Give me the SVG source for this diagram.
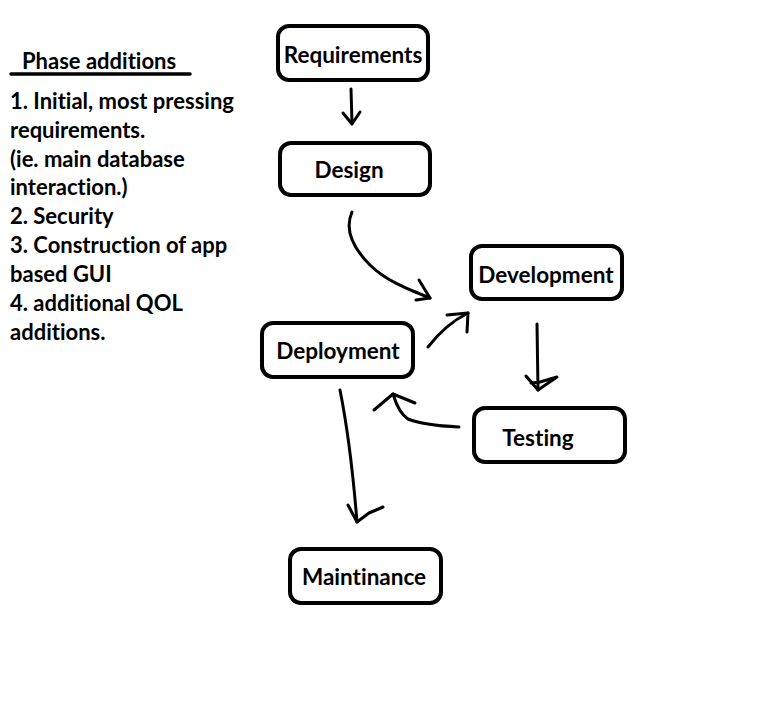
<svg xmlns="http://www.w3.org/2000/svg" width="777" height="716" viewBox="0 0 777 716">
<style>
.box{fill:#fff;stroke:#000;stroke-width:4}
.lbl{font-family:Lato,"Liberation Sans",sans-serif;font-weight:bold;font-size:22.5px;fill:#000;text-anchor:middle;font-variant-ligatures:none}
.note{font-family:Lato,"Liberation Sans",sans-serif;font-weight:bold;font-size:22px;fill:#000;font-variant-ligatures:none}
.c{fill:none;stroke:#000;stroke-width:3;stroke-linecap:round;stroke-linejoin:round}
</style>
<rect width="777" height="716" fill="#fff"/>
<g id="notes">
<text class="note" x="22" y="69">Phase additions</text>
<line x1="11" y1="74" x2="190" y2="74" stroke="#000" stroke-width="3.5" stroke-linecap="round"/>
<text class="note" x="10" y="109">1. Initial, most pressing</text>
<text class="note" x="10" y="138">requirements.</text>
<text class="note" x="10" y="167">(ie. main database</text>
<text class="note" x="10" y="195">interaction.)</text>
<text class="note" x="10" y="224">2. Security</text>
<text class="note" x="10" y="253">3. Construction of app</text>
<text class="note" x="10" y="282">based GUI</text>
<text class="note" x="10" y="311">4. additional QOL</text>
<text class="note" x="10" y="340">additions.</text>
</g>
<g id="requirements"><rect class="box" x="278" y="26" width="150" height="54" rx="11"/><text class="lbl" x="353" y="63">Requirements</text></g>
<g id="design"><rect class="box" x="280" y="143" width="150" height="52" rx="11"/><text class="lbl" x="349" y="178">Design</text></g>
<g id="development"><rect class="box" x="471" y="246" width="151" height="53" rx="11"/><text class="lbl" x="546" y="283">Development</text></g>
<g id="deployment"><rect class="box" x="262" y="323" width="151" height="54" rx="11"/><text class="lbl" x="338" y="359">Deployment</text></g>
<g id="testing"><rect class="box" x="474" y="408" width="151" height="54" rx="11"/><text class="lbl" x="538" y="446">Testing</text></g>
<g id="maintinance"><rect class="box" x="290" y="549" width="151" height="54" rx="11"/><text class="lbl" x="364" y="585">Maintinance</text></g>
<g id="connectors">
<path class="c" d="M351 89 L352 123"/>
<path class="c" d="M343 113 L352 124 L360 112"/>
<path class="c" d="M352 212 C345 228 350 245 370 265 C385 280 405 288 430 298"/>
<path class="c" d="M419 280 L430 298 L416 300"/>
<path class="c" d="M428 347 C438 334 450 322 468 313"/>
<path class="c" d="M447 315 L468 313 L467 332"/>
<path class="c" d="M537 324 L538 390"/>
<path class="c" d="M526 376 L538 390 L557 377 L540 382 L531 383"/>
<path class="c" d="M459 427 C440 426 420 424 408 419 C400 414 396 404 393 394"/>
<path class="c" d="M374 410 L393 394 L415 403"/>
<path class="c" d="M340 390 C346 420 352 460 357 522"/>
<path class="c" d="M348 505 L357 522 L369 513 L383 507"/>
</g>
</svg>
